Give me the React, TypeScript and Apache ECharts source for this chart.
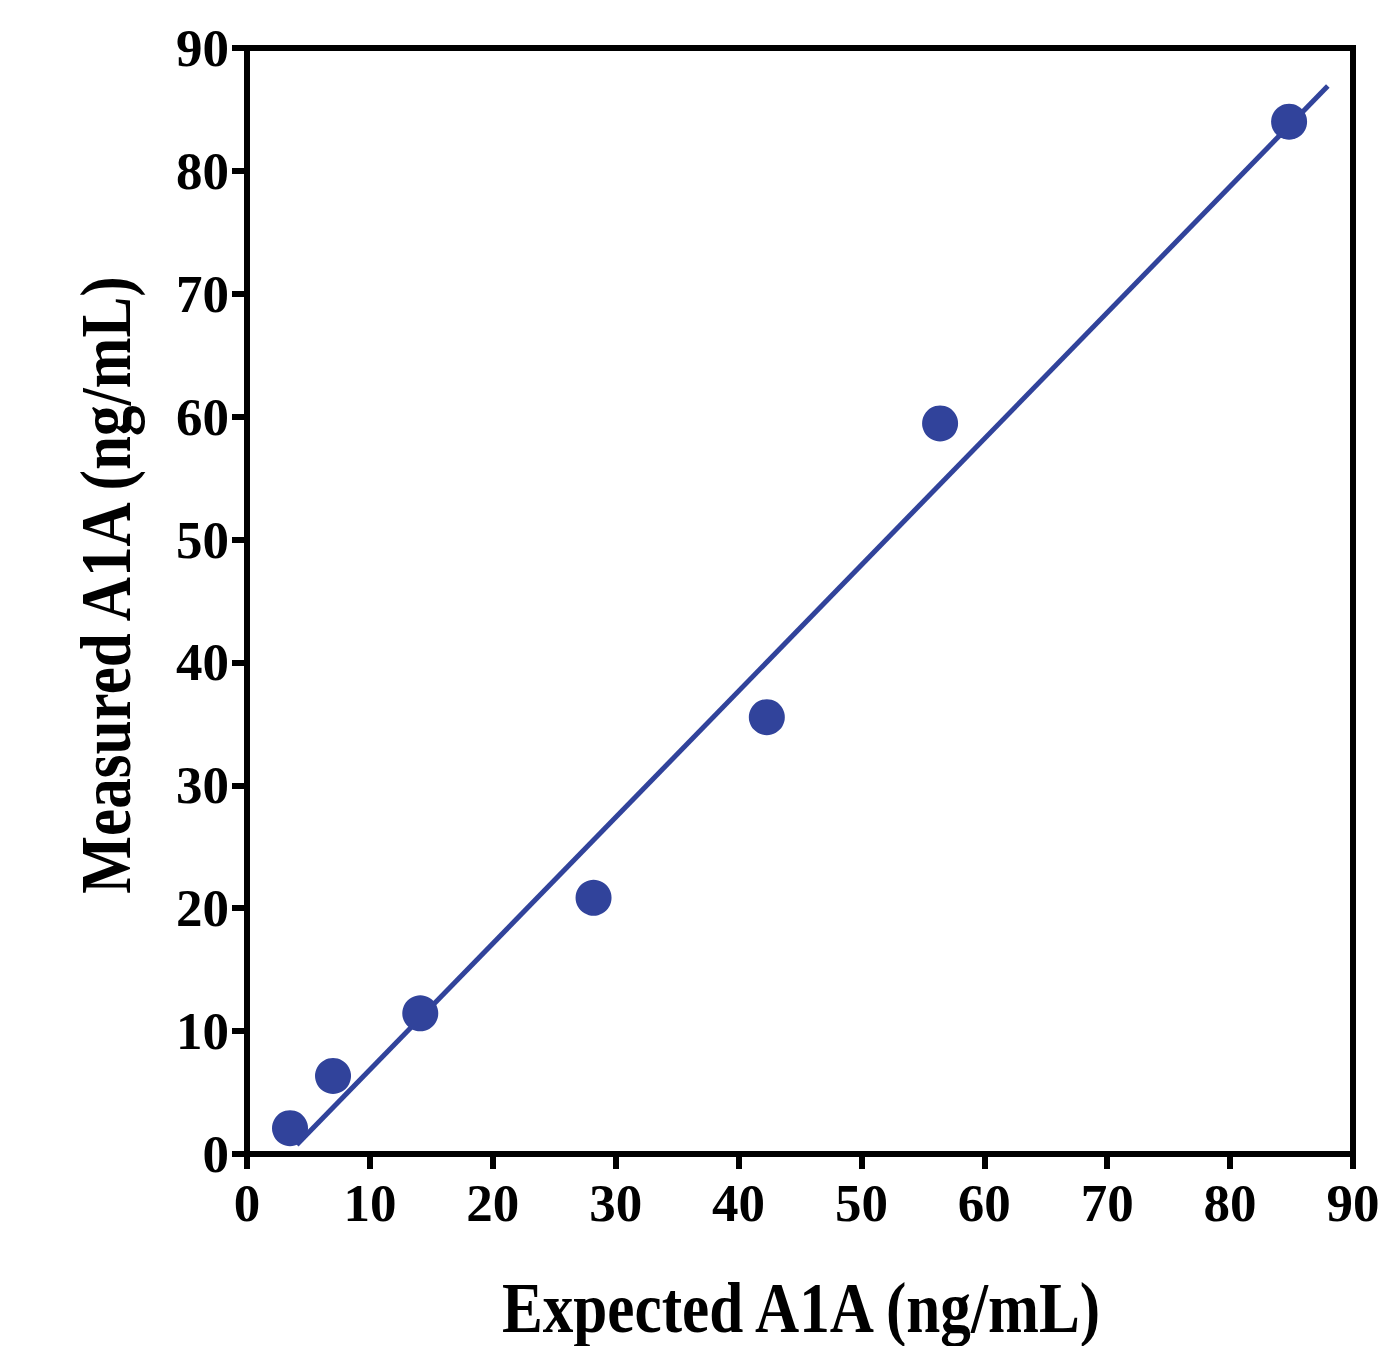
import React, { useEffect, useRef } from "react";
import * as echarts from "echarts";

const expected = [3.5, 7.0, 14.1, 28.2, 42.3, 56.4, 84.8];
const measured = [2.1, 6.35, 11.45, 20.85, 35.55, 59.45, 84.0];
const fitX = [4.05, 87.95];
const fitY = [0.75, 86.9];
const axisTicks = [0, 10, 20, 30, 40, 50, 60, 70, 80, 90];
const xTitle = "Expected A1A (ng/mL)";
const yTitle = "Measured A1A (ng/mL)";

const BLUE = "#31439B";
const FONT = "'Liberation Serif', 'Times New Roman', serif";

export default function App() {
  const ref = useRef<HTMLDivElement>(null);
  useEffect(() => {
    document.body.style.margin = "0";
    const chart = echarts.init(ref.current!, null, { renderer: "svg" });
    const axisCommon = {
      type: "value",
      min: axisTicks[0],
      max: axisTicks[axisTicks.length - 1],
      interval: 10,
      splitLine: { show: false },
      axisLine: { show: true, lineStyle: { color: "#000", width: 6 } },
      axisTick: { show: true, length: 15, lineStyle: { color: "#000", width: 6 } },
      axisLabel: {
        color: "#000",
        fontFamily: FONT,
        fontWeight: "bold",
        fontSize: 53,
      },
    };
    chart.setOption({
      animation: false,
      backgroundColor: "#fff",
      grid: {
        left: 247,
        right: 25,
        top: 48,
        bottom: 192,
        show: true,
        borderColor: "#000",
        borderWidth: 6,
        containLabel: false,
        outerBoundsMode: "none",
      },
      xAxis: {
        ...axisCommon,
        axisLabel: { ...axisCommon.axisLabel, margin: 22, showMaxLabel: true, showMinLabel: true },
      },
      yAxis: {
        ...axisCommon,
        axisLabel: { ...axisCommon.axisLabel, margin: 18, showMaxLabel: true, showMinLabel: true },
      },
      series: [
        {
          type: "line",
          data: fitX.map((x, i) => [x, fitY[i]]),
          showSymbol: false,
          symbol: "none",
          lineStyle: { color: BLUE, width: 5, opacity: 1 },
          z: 2,
        },
        {
          type: "scatter",
          data: expected.map((x, i) => [x, measured[i]]),
          symbol: "circle",
          symbolSize: 36,
          itemStyle: { color: BLUE, opacity: 1 },
          z: 3,
        },
      ],
      graphic: [
        {
          type: "text",
          x: 801,
          y: 1307,
          scaleX: 0.85,
          style: {
            text: xTitle,
            fill: "#000",
            font: `bold 72px ${FONT}`,
            align: "center",
            verticalAlign: "middle",
          },
        },
        {
          type: "text",
          x: 105,
          y: 585,
          rotation: Math.PI / 2,
          scaleX: 0.85,
          style: {
            text: yTitle,
            fill: "#000",
            font: `bold 72px ${FONT}`,
            align: "center",
            verticalAlign: "middle",
          },
        },
      ],
    });
    return () => chart.dispose();
  }, []);
  return <div ref={ref} style={{ width: 1378, height: 1346 }} />;
}
